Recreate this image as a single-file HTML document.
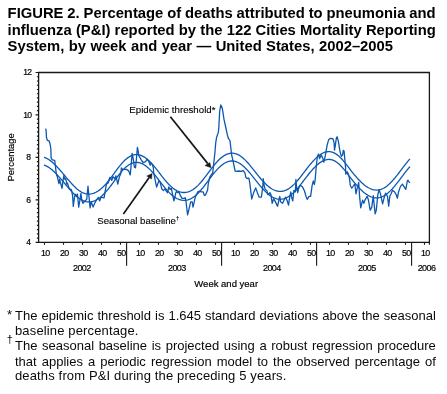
<!DOCTYPE html>
<html><head><meta charset="utf-8">
<style>
html,body{margin:0;padding:0;background:#fff;}
body{width:447px;height:394px;position:relative;overflow:hidden;will-change:transform;font-family:"Liberation Sans",sans-serif;color:#0a0a0a;}
.t{position:absolute;left:7.6px;color:#000;font-weight:bold;font-size:14.8px;line-height:16.3px;white-space:nowrap;}
.fn{position:absolute;left:15px;width:420.8px;font-size:13px;line-height:14.8px;white-space:nowrap;letter-spacing:0.14px;}
.j{text-align:justify;text-align-last:justify;letter-spacing:0;}
.m{position:absolute;left:7px;font-size:13px;}
svg{position:absolute;left:0;top:0;font-family:"Liberation Sans",sans-serif;}
svg text{fill:#000;stroke:#000;stroke-width:0.18px;}
svg text.a{stroke-width:0.12px;}
</style></head><body>
<div class="t" style="top:5.2px;word-spacing:-0.25px">FIGURE 2. Percentage of deaths attributed to pneumonia and</div>
<div class="t" style="top:21.6px;word-spacing:0.08px">influenza (P&amp;I) reported by the 122 Cities Mortality Reporting</div>
<div class="t" style="top:37.7px;word-spacing:0.27px">System, by week and year — United States, 2002–2005</div>

<svg width="447" height="394" viewBox="0 0 447 394" fill="#1a1718">
<path d="M38.6 72.5H429.4V242.3H38.6Z" fill="none" stroke="#1a1718" stroke-width="1.3"/>
<path d="M35.6 242.30H38.6M36.9 238.06H38.6M36.9 233.81H38.6M36.9 229.56H38.6M36.9 225.32H38.6M36.9 221.08H38.6M36.9 216.83H38.6M36.9 212.59H38.6M36.9 208.34H38.6M36.9 204.10H38.6M35.6 199.85H38.6M36.9 195.61H38.6M36.9 191.36H38.6M36.9 187.12H38.6M36.9 182.87H38.6M36.9 178.62H38.6M36.9 174.38H38.6M36.9 170.13H38.6M36.9 165.89H38.6M36.9 161.65H38.6M35.6 157.40H38.6M36.9 153.16H38.6M36.9 148.91H38.6M36.9 144.67H38.6M36.9 140.42H38.6M36.9 136.18H38.6M36.9 131.93H38.6M36.9 127.69H38.6M36.9 123.44H38.6M36.9 119.19H38.6M35.6 114.95H38.6M36.9 110.71H38.6M36.9 106.46H38.6M36.9 102.22H38.6M36.9 97.97H38.6M36.9 93.73H38.6M36.9 89.48H38.6M36.9 85.24H38.6M36.9 80.99H38.6M36.9 76.75H38.6M35.6 72.50H38.6" stroke="#1a1718" stroke-width="1.2"/>
<text x="30.6" y="244.9" font-size="8.6" letter-spacing="-0.55" text-anchor="end">4</text>
<text x="30.6" y="202.5" font-size="8.6" letter-spacing="-0.55" text-anchor="end">6</text>
<text x="30.6" y="160.0" font-size="8.6" letter-spacing="-0.55" text-anchor="end">8</text>
<text x="31.6" y="117.5" font-size="8.6" letter-spacing="-0.55" text-anchor="end">10</text>
<text x="31.6" y="75.1" font-size="8.6" letter-spacing="-0.55" text-anchor="end">12</text>
<text x="45.20" y="255.8" font-size="8.9" letter-spacing="-0.7" text-anchor="middle">10</text>
<text x="64.20" y="255.8" font-size="8.9" letter-spacing="-0.7" text-anchor="middle">20</text>
<text x="83.20" y="255.8" font-size="8.9" letter-spacing="-0.7" text-anchor="middle">30</text>
<text x="102.20" y="255.8" font-size="8.9" letter-spacing="-0.7" text-anchor="middle">40</text>
<text x="121.20" y="255.8" font-size="8.9" letter-spacing="-0.7" text-anchor="middle">50</text>
<text x="140.20" y="255.8" font-size="8.9" letter-spacing="-0.7" text-anchor="middle">10</text>
<text x="159.20" y="255.8" font-size="8.9" letter-spacing="-0.7" text-anchor="middle">20</text>
<text x="178.20" y="255.8" font-size="8.9" letter-spacing="-0.7" text-anchor="middle">30</text>
<text x="197.20" y="255.8" font-size="8.9" letter-spacing="-0.7" text-anchor="middle">40</text>
<text x="216.20" y="255.8" font-size="8.9" letter-spacing="-0.7" text-anchor="middle">50</text>
<text x="235.20" y="255.8" font-size="8.9" letter-spacing="-0.7" text-anchor="middle">10</text>
<text x="254.20" y="255.8" font-size="8.9" letter-spacing="-0.7" text-anchor="middle">20</text>
<text x="273.20" y="255.8" font-size="8.9" letter-spacing="-0.7" text-anchor="middle">30</text>
<text x="292.20" y="255.8" font-size="8.9" letter-spacing="-0.7" text-anchor="middle">40</text>
<text x="311.20" y="255.8" font-size="8.9" letter-spacing="-0.7" text-anchor="middle">50</text>
<text x="330.20" y="255.8" font-size="8.9" letter-spacing="-0.7" text-anchor="middle">10</text>
<text x="349.20" y="255.8" font-size="8.9" letter-spacing="-0.7" text-anchor="middle">20</text>
<text x="368.20" y="255.8" font-size="8.9" letter-spacing="-0.7" text-anchor="middle">30</text>
<text x="387.20" y="255.8" font-size="8.9" letter-spacing="-0.7" text-anchor="middle">40</text>
<text x="406.20" y="255.8" font-size="8.9" letter-spacing="-0.7" text-anchor="middle">50</text>
<text x="425.20" y="255.8" font-size="8.9" letter-spacing="-0.7" text-anchor="middle">10</text>
<path d="M44.50 242.3V244.8M63.50 242.3V244.8M82.50 242.3V244.8M101.50 242.3V244.8M120.50 242.3V244.8M139.50 242.3V244.8M158.50 242.3V244.8M177.50 242.3V244.8M196.50 242.3V244.8M215.50 242.3V244.8M234.50 242.3V244.8M253.50 242.3V244.8M272.50 242.3V244.8M291.50 242.3V244.8M310.50 242.3V244.8M329.50 242.3V244.8M348.50 242.3V244.8M367.50 242.3V244.8M386.50 242.3V244.8M405.50 242.3V244.8M424.50 242.3V244.8M429.40 242.3V244.8M126.60 242.3V265.7M221.60 242.3V265.7M316.60 242.3V265.7M411.60 242.3V265.7" stroke="#1a1718" stroke-width="1.1"/>
<text x="81.8" y="271.1" font-size="9" letter-spacing="-0.6" text-anchor="middle">2002</text>
<text x="176.8" y="271.1" font-size="9" letter-spacing="-0.6" text-anchor="middle">2003</text>
<text x="271.8" y="271.1" font-size="9" letter-spacing="-0.6" text-anchor="middle">2004</text>
<text x="366.8" y="271.1" font-size="9" letter-spacing="-0.6" text-anchor="middle">2005</text>
<text x="426.5" y="271.1" font-size="9" letter-spacing="-0.6" text-anchor="middle">2006</text>
<text x="226.2" y="287.4" font-size="9.5" text-anchor="middle">Week and year</text>
<text transform="translate(14.4 157.3) rotate(-90)" font-size="9.45" text-anchor="middle">Percentage</text>
<text class="a" x="129.3" y="113.4" font-size="9.7">Epidemic threshold*</text>
<text class="a" x="97.3" y="224" font-size="9.65">Seasonal baseline<tspan font-size="6" dy="-4">†</tspan></text>
<path d="M170.4 116.7L207.8 163.6" stroke="#1a1718" stroke-width="1.7"/>
<path d="M211.1 167.7L204.9 165.6L209.9 162.6Z" fill="#1a1718" stroke="#1a1718" stroke-width="0.4" stroke-linejoin="miter"/>
<path d="M123.4 214L149.2 177.6" stroke="#1a1718" stroke-width="1.7"/>
<path d="M152.1 173.5L146.7 176.0L151.6 179.0Z" fill="#1a1718" stroke="#1a1718" stroke-width="0.4" stroke-linejoin="miter"/>
<polyline points="44.0,165.15 45.0,165.46 46.0,165.86 47.0,166.33 48.0,166.89 49.0,167.51 50.0,168.21 51.0,168.97 52.0,169.79 53.0,170.67 54.0,171.60 55.0,172.57 56.0,173.59 57.0,174.64 58.0,175.72 59.0,176.83 60.0,177.96 61.0,179.10 62.0,180.26 63.0,181.42 64.0,182.60 65.0,183.78 66.0,184.96 67.0,186.14 68.0,187.31 69.0,188.47 70.0,189.62 71.0,190.74 72.0,191.84 73.0,192.90 74.0,193.93 75.0,194.91 76.0,195.84 77.0,196.72 78.0,197.54 79.0,198.29 80.0,198.98 81.0,199.61 82.0,200.16 83.0,200.64 84.0,201.04 85.0,201.37 86.0,201.62 87.0,201.80 88.0,201.90 89.0,201.92 90.0,201.87 91.0,201.75 92.0,201.56 93.0,201.29 94.0,200.95 95.0,200.54 96.0,200.06 97.0,199.52 98.0,198.90 99.0,198.21 100.0,197.46 101.0,196.64 102.0,195.76 103.0,194.82 104.0,193.83 105.0,192.77 106.0,191.67 107.0,190.52 108.0,189.32 109.0,188.08 110.0,186.80 111.0,185.49 112.0,184.15 113.0,182.79 114.0,181.42 115.0,180.04 116.0,178.66 117.0,177.30 118.0,175.96 119.0,174.65 120.0,173.39 121.0,172.17 122.0,171.02 123.0,169.92 124.0,168.89 125.0,167.92 126.0,167.03 127.0,166.21 128.0,165.46 129.0,164.80 130.0,164.21 131.0,163.70 132.0,163.28 133.0,162.94 134.0,162.68 135.0,162.51 136.0,162.42 137.0,162.42 138.0,162.51 139.0,162.67 140.0,162.93 141.0,163.26 142.0,163.67 143.0,164.16 144.0,164.73 145.0,165.38 146.0,166.09 147.0,166.88 148.0,167.73 149.0,168.64 150.0,169.61 151.0,170.64 152.0,171.72 153.0,172.85 154.0,174.01 155.0,175.22 156.0,176.46 157.0,177.72 158.0,179.00 159.0,180.29 160.0,181.59 161.0,182.89 162.0,184.17 163.0,185.45 164.0,186.69 165.0,187.91 166.0,189.09 167.0,190.24 168.0,191.33 169.0,192.38 170.0,193.37 171.0,194.30 172.0,195.17 173.0,195.98 174.0,196.72 175.0,197.40 176.0,198.01 177.0,198.55 178.0,199.02 179.0,199.42 180.0,199.75 181.0,200.00 182.0,200.19 183.0,200.30 184.0,200.34 185.0,200.31 186.0,200.20 187.0,200.02 188.0,199.76 189.0,199.43 190.0,199.03 191.0,198.55 192.0,198.00 193.0,197.38 194.0,196.68 195.0,195.91 196.0,195.08 197.0,194.18 198.0,193.21 199.0,192.19 200.0,191.10 201.0,189.97 202.0,188.78 203.0,187.56 204.0,186.30 205.0,185.00 206.0,183.69 207.0,182.36 208.0,181.02 209.0,179.67 210.0,178.33 211.0,177.01 212.0,175.70 213.0,174.42 214.0,173.17 215.0,171.96 216.0,170.80 217.0,169.68 218.0,168.61 219.0,167.61 220.0,166.66 221.0,165.78 222.0,164.96 223.0,164.22 224.0,163.55 225.0,162.95 226.0,162.43 227.0,161.98 228.0,161.61 229.0,161.33 230.0,161.13 231.0,161.00 232.0,160.97 233.0,161.01 234.0,161.14 235.0,161.35 236.0,161.65 237.0,162.02 238.0,162.48 239.0,163.02 240.0,163.63 241.0,164.31 242.0,165.07 243.0,165.89 244.0,166.78 245.0,167.72 246.0,168.72 247.0,169.78 248.0,170.87 249.0,172.01 250.0,173.18 251.0,174.39 252.0,175.62 253.0,176.86 254.0,178.12 255.0,179.39 256.0,180.65 257.0,181.91 258.0,183.16 259.0,184.39 260.0,185.60 261.0,186.78 262.0,187.93 263.0,189.04 264.0,190.11 265.0,191.13 266.0,192.11 267.0,193.03 268.0,193.90 269.0,194.71 270.0,195.46 271.0,196.15 272.0,196.77 273.0,197.32 274.0,197.81 275.0,198.22 276.0,198.56 277.0,198.83 278.0,199.02 279.0,199.15 280.0,199.19 281.0,199.17 282.0,199.07 283.0,198.89 284.0,198.64 285.0,198.32 286.0,197.92 287.0,197.45 288.0,196.90 289.0,196.28 290.0,195.60 291.0,194.84 292.0,194.02 293.0,193.13 294.0,192.18 295.0,191.16 296.0,190.10 297.0,188.98 298.0,187.82 299.0,186.61 300.0,185.37 301.0,184.11 302.0,182.82 303.0,181.51 304.0,180.20 305.0,178.88 306.0,177.58 307.0,176.28 308.0,175.00 309.0,173.74 310.0,172.52 311.0,171.32 312.0,170.16 313.0,169.04 314.0,167.96 315.0,166.93 316.0,165.96 317.0,165.03 318.0,164.17 319.0,163.37 320.0,162.64 321.0,161.97 322.0,161.38 323.0,160.86 324.0,160.41 325.0,160.05 326.0,159.77 327.0,159.57 328.0,159.46 329.0,159.43 330.0,159.49 331.0,159.64 332.0,159.88 333.0,160.21 334.0,160.64 335.0,161.15 336.0,161.75 337.0,162.44 338.0,163.22 339.0,164.08 340.0,165.01 341.0,166.02 342.0,167.10 343.0,168.24 344.0,169.43 345.0,170.65 346.0,171.91 347.0,173.19 348.0,174.49 349.0,175.78 350.0,177.08 351.0,178.37 352.0,179.65 353.0,180.90 354.0,182.14 355.0,183.34 356.0,184.52 357.0,185.67 358.0,186.77 359.0,187.84 360.0,188.86 361.0,189.84 362.0,190.77 363.0,191.66 364.0,192.49 365.0,193.27 366.0,193.99 367.0,194.66 368.0,195.27 369.0,195.82 370.0,196.31 371.0,196.74 372.0,197.10 373.0,197.39 374.0,197.62 375.0,197.77 376.0,197.86 377.0,197.86 378.0,197.79 379.0,197.65 380.0,197.43 381.0,197.13 382.0,196.75 383.0,196.30 384.0,195.77 385.0,195.17 386.0,194.49 387.0,193.75 388.0,192.94 389.0,192.06 390.0,191.13 391.0,190.13 392.0,189.09 393.0,187.99 394.0,186.84 395.0,185.66 396.0,184.43 397.0,183.18 398.0,181.89 399.0,180.59 400.0,179.27 401.0,177.93 402.0,176.60 403.0,175.27 404.0,173.95 405.0,172.65 406.0,171.38 407.0,170.14 408.0,168.93 409.0,167.78 410.0,166.67" fill="none" stroke="#0c58b0" stroke-width="1.3"/>
<polyline points="44.0,157.33 45.0,157.64 46.0,158.04 47.0,158.51 48.0,159.06 49.0,159.69 50.0,160.38 51.0,161.14 52.0,161.97 53.0,162.85 54.0,163.77 55.0,164.75 56.0,165.77 57.0,166.82 58.0,167.90 59.0,169.01 60.0,170.13 61.0,171.28 62.0,172.43 63.0,173.60 64.0,174.77 65.0,175.95 66.0,177.13 67.0,178.31 68.0,179.49 69.0,180.65 70.0,181.79 71.0,182.92 72.0,184.01 73.0,185.08 74.0,186.10 75.0,187.08 76.0,188.02 77.0,188.89 78.0,189.71 79.0,190.47 80.0,191.16 81.0,191.78 82.0,192.33 83.0,192.81 84.0,193.22 85.0,193.54 86.0,193.80 87.0,193.97 88.0,194.07 89.0,194.10 90.0,194.05 91.0,193.93 92.0,193.73 93.0,193.47 94.0,193.13 95.0,192.72 96.0,192.24 97.0,191.69 98.0,191.07 99.0,190.39 100.0,189.64 101.0,188.82 102.0,187.94 103.0,187.00 104.0,186.00 105.0,184.95 106.0,183.85 107.0,182.69 108.0,181.50 109.0,180.26 110.0,178.98 111.0,177.67 112.0,176.33 113.0,174.97 114.0,173.60 115.0,172.22 116.0,170.84 117.0,169.48 118.0,168.14 119.0,166.83 120.0,165.57 121.0,164.35 122.0,163.19 123.0,162.09 124.0,161.06 125.0,160.10 126.0,159.21 127.0,158.39 128.0,157.64 129.0,156.97 130.0,156.39 131.0,155.88 132.0,155.46 133.0,155.12 134.0,154.86 135.0,154.69 136.0,154.60 137.0,154.60 138.0,154.68 139.0,154.85 140.0,155.10 141.0,155.44 142.0,155.85 143.0,156.34 144.0,156.91 145.0,157.55 146.0,158.27 147.0,159.05 148.0,159.90 149.0,160.82 150.0,161.79 151.0,162.82 152.0,163.90 153.0,165.02 154.0,166.19 155.0,167.40 156.0,168.63 157.0,169.90 158.0,171.18 159.0,172.47 160.0,173.77 161.0,175.06 162.0,176.35 163.0,177.62 164.0,178.87 165.0,180.09 166.0,181.27 167.0,182.41 168.0,183.51 169.0,184.55 170.0,185.54 171.0,186.48 172.0,187.35 173.0,188.16 174.0,188.90 175.0,189.58 176.0,190.19 177.0,190.73 178.0,191.20 179.0,191.60 180.0,191.92 181.0,192.18 182.0,192.37 183.0,192.48 184.0,192.52 185.0,192.48 186.0,192.37 187.0,192.19 188.0,191.94 189.0,191.61 190.0,191.21 191.0,190.73 192.0,190.18 193.0,189.55 194.0,188.86 195.0,188.09 196.0,187.26 197.0,186.35 198.0,185.39 199.0,184.36 200.0,183.28 201.0,182.14 202.0,180.96 203.0,179.74 204.0,178.47 205.0,177.18 206.0,175.87 207.0,174.53 208.0,173.19 209.0,171.85 210.0,170.51 211.0,169.18 212.0,167.88 213.0,166.60 214.0,165.35 215.0,164.14 216.0,162.97 217.0,161.86 218.0,160.79 219.0,159.78 220.0,158.84 221.0,157.96 222.0,157.14 223.0,156.40 224.0,155.72 225.0,155.12 226.0,154.60 227.0,154.16 228.0,153.79 229.0,153.51 230.0,153.30 231.0,153.18 232.0,153.14 233.0,153.19 234.0,153.32 235.0,153.53 236.0,153.82 237.0,154.20 238.0,154.66 239.0,155.19 240.0,155.80 241.0,156.49 242.0,157.25 243.0,158.07 244.0,158.95 245.0,159.90 246.0,160.90 247.0,161.95 248.0,163.05 249.0,164.19 250.0,165.36 251.0,166.57 252.0,167.79 253.0,169.04 254.0,170.30 255.0,171.56 256.0,172.83 257.0,174.09 258.0,175.34 259.0,176.57 260.0,177.78 261.0,178.96 262.0,180.10 263.0,181.21 264.0,182.28 265.0,183.31 266.0,184.29 267.0,185.21 268.0,186.08 269.0,186.89 270.0,187.64 271.0,188.33 272.0,188.95 273.0,189.50 274.0,189.98 275.0,190.40 276.0,190.74 277.0,191.01 278.0,191.20 279.0,191.32 280.0,191.37 281.0,191.34 282.0,191.24 283.0,191.07 284.0,190.82 285.0,190.49 286.0,190.09 287.0,189.62 288.0,189.08 289.0,188.46 290.0,187.77 291.0,187.02 292.0,186.19 293.0,185.30 294.0,184.35 295.0,183.34 296.0,182.27 297.0,181.16 298.0,179.99 299.0,178.79 300.0,177.55 301.0,176.28 302.0,174.99 303.0,173.69 304.0,172.37 305.0,171.06 306.0,169.75 307.0,168.46 308.0,167.18 309.0,165.92 310.0,164.69 311.0,163.50 312.0,162.33 313.0,161.21 314.0,160.14 315.0,159.11 316.0,158.13 317.0,157.21 318.0,156.35 319.0,155.55 320.0,154.81 321.0,154.15 322.0,153.55 323.0,153.03 324.0,152.59 325.0,152.23 326.0,151.94 327.0,151.74 328.0,151.63 329.0,151.61 330.0,151.67 331.0,151.82 332.0,152.06 333.0,152.39 334.0,152.81 335.0,153.33 336.0,153.93 337.0,154.62 338.0,155.39 339.0,156.25 340.0,157.19 341.0,158.20 342.0,159.28 343.0,160.42 344.0,161.60 345.0,162.83 346.0,164.09 347.0,165.37 348.0,166.66 349.0,167.96 350.0,169.26 351.0,170.55 352.0,171.82 353.0,173.08 354.0,174.31 355.0,175.52 356.0,176.70 357.0,177.84 358.0,178.95 359.0,180.02 360.0,181.04 361.0,182.02 362.0,182.95 363.0,183.83 364.0,184.67 365.0,185.44 366.0,186.17 367.0,186.84 368.0,187.45 369.0,188.00 370.0,188.49 371.0,188.91 372.0,189.28 373.0,189.57 374.0,189.80 375.0,189.95 376.0,190.03 377.0,190.04 378.0,189.97 379.0,189.83 380.0,189.60 381.0,189.30 382.0,188.93 383.0,188.48 384.0,187.95 385.0,187.35 386.0,186.67 387.0,185.93 388.0,185.12 389.0,184.24 390.0,183.31 391.0,182.31 392.0,181.26 393.0,180.16 394.0,179.02 395.0,177.83 396.0,176.61 397.0,175.35 398.0,174.07 399.0,172.76 400.0,171.44 401.0,170.11 402.0,168.78 403.0,167.45 404.0,166.13 405.0,164.83 406.0,163.55 407.0,162.31 408.0,161.11 409.0,159.95 410.0,158.84" fill="none" stroke="#0c58b0" stroke-width="1.3"/>
<polyline points="45.7,128.6 46.2,131.6 46.4,137.0 47.3,140.4 49.0,140.8 50.0,143.8 50.8,148.4 51.1,157.6 52.2,159.9 54.7,160.3 55.3,165.2 56.0,171.3 56.8,175.9 57.3,176.4 58.9,183.6 59.6,179.4 62.0,188.3 62.7,183.2 63.8,175.6 64.9,179.4 65.7,178.7 66.9,184.0 67.6,183.2 68.4,186.3 69.5,188.9 71.4,189.6 72.6,195.7 73.3,206.4 74.5,197.2 75.6,194.2 76.5,196.5 77.5,194.2 78.7,207.1 79.8,201.0 80.9,193.4 81.7,199.5 82.9,203.3 84.8,201.0 86.7,199.5 88.0,186.2 88.9,195.7 90.1,207.9 91.2,201.8 93.1,207.1 95.0,202.6 96.9,199.4 98.4,197.5 99.6,200.9 101.1,197.1 104.1,197.9 104.9,192.6 106.4,184.2 108.3,182.7 109.9,177.3 111.8,180.4 112.9,176.6 114.8,178.9 115.9,175.8 117.8,184.2 119.4,176.6 120.9,173.5 121.4,167.8 122.6,169.4 124.1,169.4 126.4,169.4 128.7,170.9 130.2,175.0 130.9,167.8 132.1,153.4 133.2,158.7 134.4,167.1 135.5,167.8 136.3,160.2 137.4,147.3 138.2,151.1 138.6,154.9 139.3,156.4 141.1,159.6 143.1,162.7 145.6,161.7 146.9,159.1 148.7,161.2 150.2,165.2 151.2,163.2 152.2,164.2 153.3,167.5 153.7,172.8 154.7,177.6 156.6,187.1 158.9,180.7 160.0,181.8 161.9,189.0 163.4,190.6 165.0,188.9 166.3,191.1 167.5,192.7 168.8,187.0 170.1,189.5 171.3,188.2 172.6,194.6 173.9,200.9 174.8,197.8 175.8,192.7 176.4,191.4 177.7,192.7 179.0,192.1 180.2,195.2 182.1,198.4 184.0,198.4 185.3,197.8 185.9,200.9 187.6,214.8 189.1,208.7 190.7,201.9 192.2,201.9 193.0,207.2 194.1,202.6 195.2,197.3 196.7,194.2 197.8,191.9 199.4,191.1 201.3,191.9 203.2,191.9 204.3,195.3 205.5,195.0 207.6,190.0 208.4,182.8 209.9,176.8 211.4,174.5 212.6,173.3 213.3,167.6 214.1,160.0 214.8,153.8 215.7,143.1 216.5,137.8 218.3,132.4 218.8,128.0 219.7,111.0 220.8,104.9 222.3,108.3 224.1,119.9 225.9,128.0 227.2,134.2 228.5,138.7 229.9,140.4 230.8,147.5 231.6,154.6 233.3,162.1 235.1,171.0 236.9,171.4 239.1,171.0 241.3,171.4 243.1,170.5 244.9,172.8 245.8,177.2 247.1,178.5 248.9,178.1 249.9,183.9 251.7,199.0 253.9,191.9 255.7,187.9 257.4,192.8 259.2,197.2 261.4,197.2 262.8,186.5 263.2,178.6 264.1,184.8 265.0,189.2 266.8,190.5 268.0,194.9 269.9,192.6 271.0,194.9 272.2,203.3 273.7,198.7 275.2,201.4 277.5,206.3 278.7,201.0 279.8,196.4 280.6,201.8 282.5,203.3 284.4,199.5 285.5,197.2 287.0,200.2 288.6,205.2 289.3,199.5 290.8,191.9 291.6,197.2 292.8,201.0 293.9,190.3 295.4,191.9 295.9,179.5 296.6,187.3 297.7,192.5 298.8,187.9 300.3,185.2 302.6,187.1 304.5,191.0 306.0,196.3 307.2,199.3 309.1,196.3 310.6,196.3 312.1,185.6 313.3,181.0 314.4,184.5 315.2,179.5 316.2,167.0 317.3,157.1 318.5,154.1 319.6,158.7 321.1,154.9 322.7,157.9 323.8,162.1 325.0,157.1 326.1,151.0 327.2,144.8 328.8,139.4 330.3,138.3 332.9,138.7 334.1,142.5 334.5,150.1 335.2,146.3 336.4,137.9 337.1,136.8 338.3,140.9 339.4,147.8 340.0,151.5 341.4,156.4 342.6,154.9 343.3,150.3 344.1,151.1 344.9,160.2 345.6,167.8 345.7,174.1 347.2,171.8 348.4,174.1 349.5,178.7 350.3,185.5 351.8,188.2 353.7,185.5 354.9,184.0 356.0,193.9 357.1,188.6 358.7,182.5 359.6,196.4 360.7,207.8 362.6,200.2 363.8,203.3 364.9,200.2 367.2,196.4 368.3,199.5 370.2,210.1 371.8,207.1 373.3,195.7 374.0,203.3 375.2,213.9 376.3,210.1 377.8,194.9 379.0,189.6 380.3,193.2 382.6,203.9 384.1,197.8 385.6,193.2 387.5,196.3 388.7,206.2 389.8,196.3 391.3,193.2 392.5,190.2 394.4,191.7 396.3,194.8 397.4,198.2 398.6,191.7 400.5,186.4 402.4,184.1 404.3,187.1 405.8,189.4 407.3,181.0 408.0,180.3 409.0,182.0 410.1,182.7" fill="none" stroke="#0c58b0" stroke-width="1.3" stroke-linejoin="round"/>
</svg>

<div class="m" style="top:307.3px">*</div>
<div class="fn j" style="top:309.1px">The epidemic threshold is 1.645 standard deviations above the seasonal</div>
<div class="fn" style="top:323.9px">baseline percentage.</div>
<div class="m" style="left:6.8px;top:332.6px;font-size:11px">†</div>
<div class="fn j" style="top:339.4px">The seasonal baseline is projected using a robust regression procedure</div>
<div class="fn j" style="top:354.7px">that applies a periodic regression model to the observed percentage of</div>
<div class="fn" style="top:369.0px">deaths from P&amp;I during the preceding 5 years.</div>
</body></html>
